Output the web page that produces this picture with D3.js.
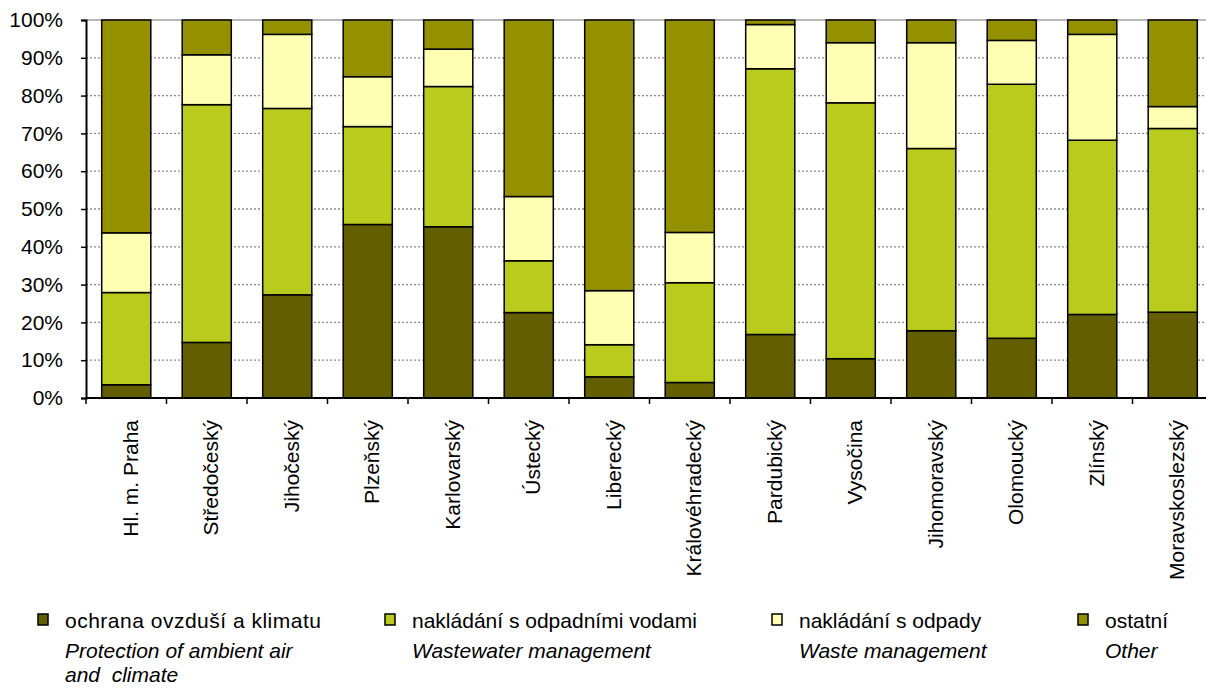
<!DOCTYPE html>
<html><head><meta charset="utf-8">
<script src="https://cdn.jsdelivr.net/npm/d3@7"></script>
<style>
html,body{margin:0;padding:0;background:#fff;}
svg{display:block;font-family:"Liberation Sans",Arial,sans-serif;}
</style></head>
<body>
<svg id="chart" width="1206" height="689"></svg>
<script>
const regions = ["Hl. m. Praha","Středočeský","Jihočeský","Plzeňský","Karlovarský","Ústecký","Liberecký","Královéhradecký","Pardubický","Vysočina","Jihomoravský","Olomoucký","Zlínský","Moravskoslezský"];
const air       = [3.5, 14.7, 27.3, 45.9, 45.3, 22.6, 5.6, 4.1, 16.8, 10.4, 17.8, 15.8, 22.1, 22.7];
const wastewater= [24.4, 62.9, 49.3, 25.9, 37.1, 13.7, 8.5, 26.4, 70.3, 67.7, 48.2, 67.2, 46.1, 48.6];
const waste     = [15.8, 13.2, 19.6, 13.2, 9.9, 17.0, 14.3, 13.3, 11.7, 15.9, 28.0, 11.6, 28.0, 5.8];
const other     = [56.3, 9.2, 3.8, 15.0, 7.7, 46.7, 71.6, 56.2, 1.2, 6.0, 6.0, 5.4, 3.8, 22.9];
const seriesKeys = ["air","wastewater","waste","other"];
const seriesCz = ["ochrana ovzduší a klimatu","nakládání s odpadními vodami","nakládání s odpady","ostatní"];
const seriesEn = [["Protection of ambient air","and  climate"],["Wastewater management"],["Waste management"],["Other"]];
const yTicks = [0,10,20,30,40,50,60,70,80,90,100];
const colors = ["#635e00","#b9cc1e","#ffffb3","#949100"];

(function(){
const rows = regions.map((r,i)=>({region:r, air:air[i], wastewater:wastewater[i], waste:waste[i], other:other[i]}));
const stacked = d3.stack().keys(seriesKeys).offset(d3.stackOffsetExpand)(rows);

const svg = d3.select("#chart");
const mLeft = 86, mTop = 20, mBottom = 398, step = 80.5;
const pad = 0.39;
const x = d3.scaleBand().domain(regions).range([mLeft, mLeft + step*regions.length]).paddingInner(pad).paddingOuter(pad/2);
const y = d3.scaleLinear().domain([0,1]).range([mBottom, mTop]);

// gridlines
svg.append("g").selectAll("line").data(yTicks.filter(t=>t>0 && t<100)).join("line")
  .attr("x1", mLeft).attr("x2", 1206)
  .attr("y1", d=>y(d/100)).attr("y2", d=>y(d/100))
  .attr("stroke", "#8c8c8c").attr("stroke-width", 1.3).attr("stroke-dasharray","2,2");
svg.append("line").attr("x1", mLeft).attr("x2", 1206).attr("y1", y(1)).attr("y2", y(1))
  .attr("stroke", "#a0a0a0").attr("stroke-width", 1.5);

// bars
svg.append("g").selectAll("g").data(stacked).join("g")
  .attr("fill", (d,i)=>colors[i])
  .selectAll("rect").data(d=>d).join("rect")
  .attr("x", d=>x(d.data.region))
  .attr("width", x.bandwidth())
  .attr("y", d=>y(d[1]))
  .attr("height", d=>y(d[0])-y(d[1]))
  .attr("stroke", "#000").attr("stroke-width", 1.5);

// y axis
const yAxis = d3.axisLeft(y).tickValues(yTicks.map(t=>t/100)).tickFormat((d,i)=>yTicks[i]+"%").tickSize(5).tickPadding(18);
const gy = svg.append("g").attr("transform", `translate(${mLeft},0)`).call(yAxis);
gy.select(".domain").attr("stroke","#000").attr("stroke-width",2);
gy.selectAll(".tick line").attr("stroke","#000").attr("stroke-width",1.5);
gy.selectAll(".tick text").attr("font-size","21px").attr("fill","#000").attr("font-family","Liberation Sans, Arial, sans-serif");

// x axis
svg.append("line").attr("x1", mLeft).attr("x2", 1206).attr("y1", mBottom).attr("y2", mBottom)
  .attr("stroke","#000").attr("stroke-width",2);
const bounds = regions.map(r=>x(r) - x.step()*pad/2).concat([x(regions[regions.length-1]) - x.step()*pad/2 + x.step()]);
svg.append("g").selectAll("line").data(bounds).join("line")
  .attr("x1", d=>d).attr("x2", d=>d).attr("y1", mBottom).attr("y2", mBottom+6)
  .attr("stroke","#000").attr("stroke-width",1.5);
svg.append("g").selectAll("text").data(regions).join("text")
  .attr("transform", d=>`translate(${x(d)+x.bandwidth()/2},420) rotate(-90)`)
  .attr("text-anchor","end").attr("dy","0.55em")
  .attr("font-size","21px").attr("fill","#000")
  .text(d=>d);

// legend
const legX = [38, 385, 772, 1078];
const leg = svg.append("g").selectAll("g").data(seriesKeys).join("g")
  .attr("transform", (d,i)=>`translate(${legX[i]},0)`);
leg.append("rect").attr("x",0).attr("y",614).attr("width",10).attr("height",11)
  .attr("fill",(d,i)=>colors[i]).attr("stroke","#000").attr("stroke-width",1.5);
leg.append("text").attr("x",27).attr("y",628).attr("font-size","21px").attr("fill","#000")
  .attr("letter-spacing",(d,i)=>i===0?"0.5px":"0px")
  .text((d,i)=>seriesCz[i]);
leg.each(function(d,i){
  d3.select(this).selectAll("text.en").data(seriesEn[i]).join("text").attr("class","en")
    .attr("x",27).attr("y",(t,j)=>658+j*24).attr("font-size","21px").attr("font-style","italic").attr("fill","#000")
    .style("white-space","pre")
    .text(t=>t);
});
})();
</script>
</body></html>
